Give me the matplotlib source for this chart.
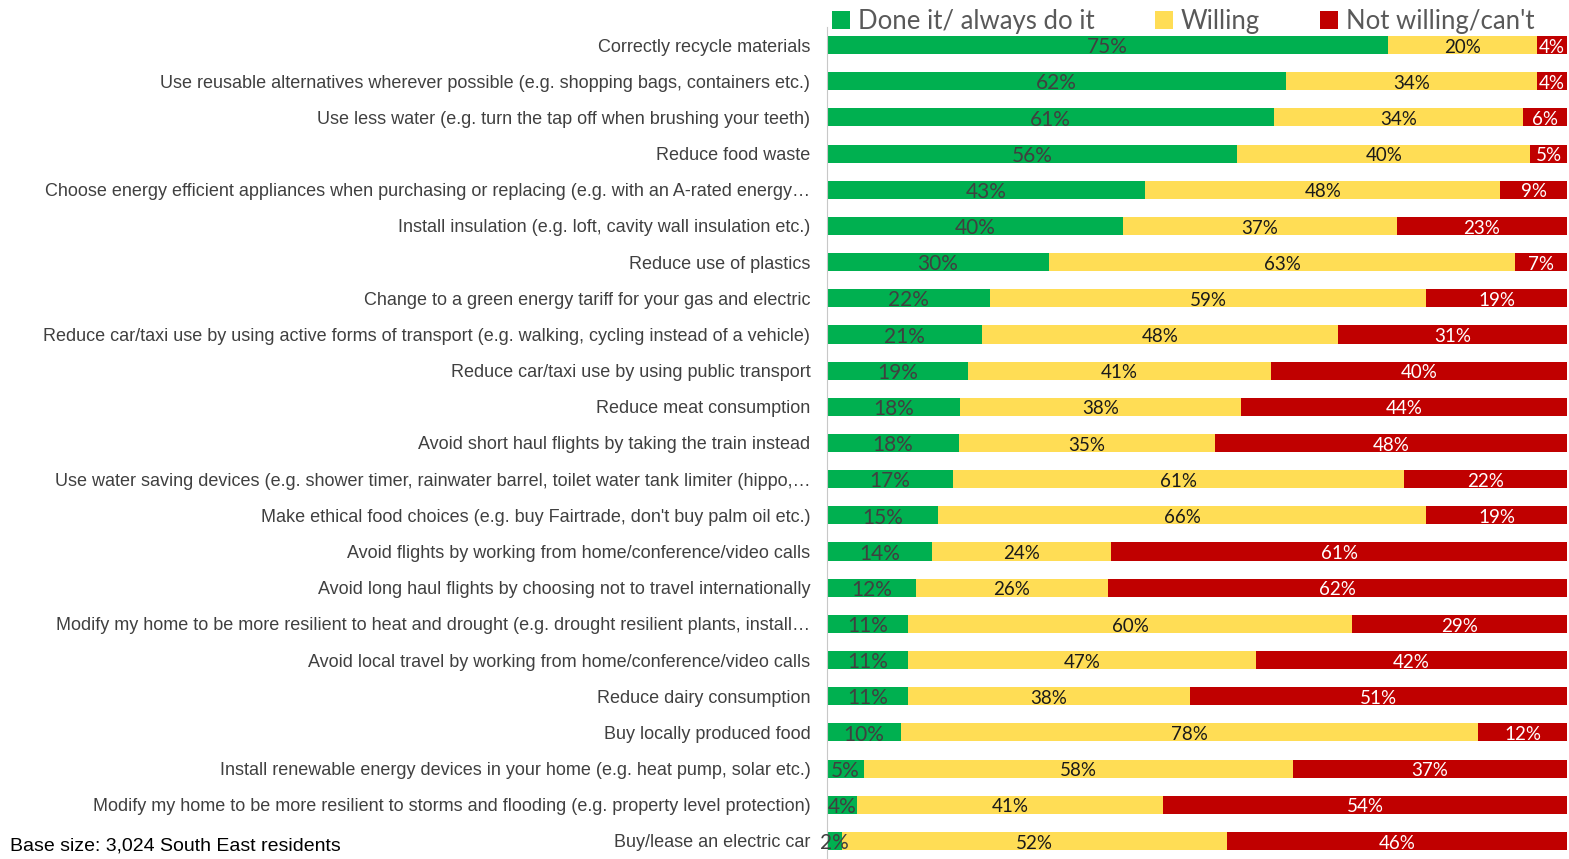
import numpy as np
import matplotlib
matplotlib.use('Agg')
from matplotlib import pyplot as plt

# data to plot
actions = [
    'Correctly recycle materials',
    'Use reusable alternatives wherever possible (e.g. shopping bags, containers etc.)',
    'Use less water (e.g. turn the tap off when brushing your teeth)',
    'Reduce food waste',
    'Choose energy efficient appliances when purchasing or replacing (e.g. with an A-rated energy\u2026',
    'Install insulation (e.g. loft, cavity wall insulation etc.)',
    'Reduce use of plastics',
    'Change to a green energy tariff for your gas and electric',
    'Reduce car/taxi use by using active forms of transport (e.g. walking, cycling instead of a vehicle)',
    'Reduce car/taxi use by using public transport',
    'Reduce meat consumption',
    'Avoid short haul flights by taking the train instead',
    'Use water saving devices (e.g. shower timer, rainwater barrel, toilet water tank limiter (hippo,\u2026',
    "Make ethical food choices (e.g. buy Fairtrade, don't buy palm oil etc.)",
    'Avoid flights by working from home/conference/video calls',
    'Avoid long haul flights by choosing not to travel internationally',
    'Modify my home to be more resilient to heat and drought (e.g. drought resilient plants, install\u2026',
    'Avoid local travel by working from home/conference/video calls',
    'Reduce dairy consumption',
    'Buy locally produced food',
    'Install renewable energy devices in your home (e.g. heat pump, solar etc.)',
    'Modify my home to be more resilient to storms and flooding (e.g. property level protection)',
    'Buy/lease an electric car',
]
done = [75, 62, 61, 56, 43, 40, 30, 22, 21, 19, 18, 18, 17, 15, 14, 12, 11, 11, 11, 10, 5, 4, 2]
willing = [20, 34, 34, 40, 48, 37, 63, 59, 48, 41, 38, 35, 61, 66, 24, 26, 60, 47, 38, 78, 58, 41, 52]
not_willing = [4, 4, 6, 5, 9, 23, 7, 19, 31, 40, 44, 48, 22, 19, 61, 62, 29, 42, 51, 12, 37, 54, 46]
series_names = ['Done it/ always do it', 'Willing', "Not willing/can't"]

colors = ['#00B050', '#FFDD55', '#C00000']
text_colors = ['#404040', '#1a1a1a', 'white']
label_sizes = [15, 13.5, 13.5]

vals = np.array([done, willing, not_willing], dtype=float)
share = vals / vals.sum(axis=0) * 100  # 100% stacked

fig = plt.figure(figsize=(15.69, 8.59), dpi=100)
ax = fig.add_axes([827 / 1569, 0, 740 / 1569, 832 / 859])

y = np.arange(len(actions))
left = np.zeros(len(actions))
for i in range(3):
    bars = ax.barh(y, share[i], left=left, height=0.5, color=colors[i], label=series_names[i])
    for j, b in enumerate(bars):
        ax.text(left[j] + share[i][j] / 2, y[j] + 0.06, '%d%%' % vals[i][j],
                ha='center', va='center', color=text_colors[i],
                fontsize=label_sizes[i], family='Lato')
    left += share[i]

ax.set_xlim(0, 100)
ax.set_ylim(len(actions) - 0.5, -0.5)
ax.set_yticks(y)
ax.set_yticklabels(actions, fontsize=13, family='Liberation Sans', color='#404040')
ax.tick_params(axis='y', length=0, pad=12)
ax.set_xticks([])
for s in ['top', 'right', 'bottom']:
    ax.spines[s].set_visible(False)
ax.spines['left'].set_color('#c8c8c8')

leg = fig.legend(loc='upper left', bbox_to_anchor=(809 / 1569, 1.016), ncol=3, frameon=False,
                 prop={'family': 'Lato', 'size': 18.5}, handlelength=0.7, handleheight=0.7,
                 handletextpad=0.3, columnspacing=2.35)
for t in leg.get_texts():
    t.set_color('#595959')

fig.text(10 / 1569, 1 - 846 / 859, 'Base size: 3,024 South East residents', fontsize=14,
         family='Liberation Sans', va='center', ha='left', color='black')

fig.savefig('out.png', dpi=100)
